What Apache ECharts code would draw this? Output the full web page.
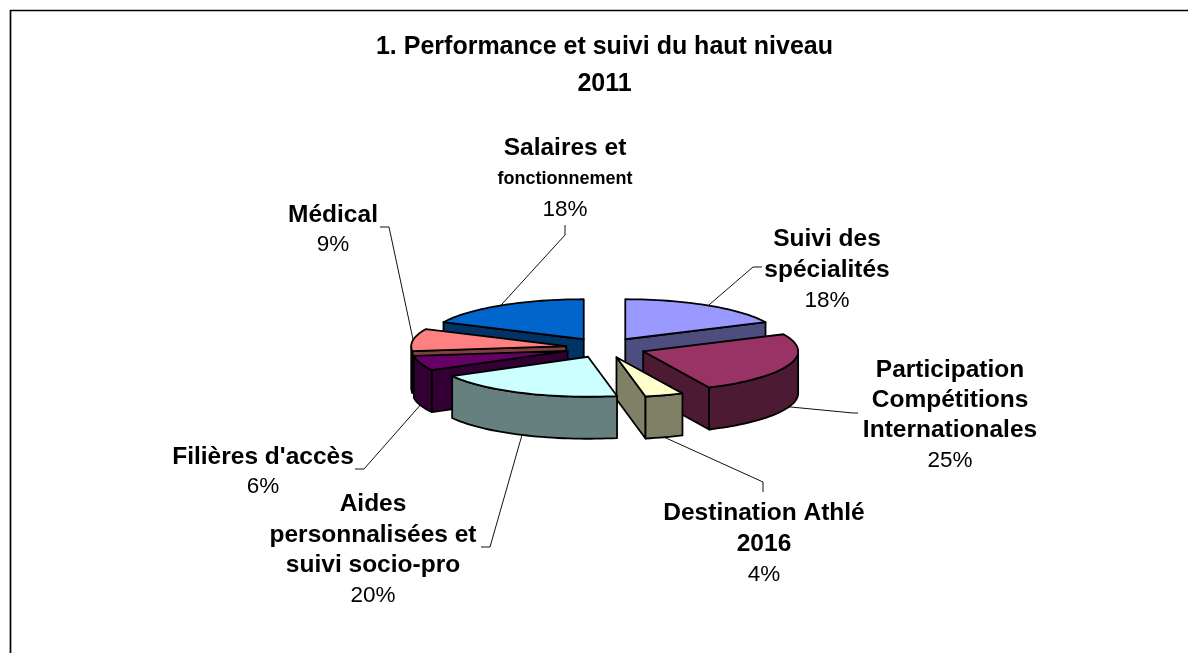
<!DOCTYPE html>
<html>
<head>
<meta charset="utf-8">
<style>
    html, body { margin: 0; padding: 0; background: #fff; }
    #main { width: 1188px; height: 653px; }
</style>
<script src="https://cdn.jsdelivr.net/npm/echarts@6/dist/echarts.min.js"></script>
</head>
<body>
<div id="main"></div>
<script>
    // chart data, clockwise from 12 o'clock
    var categories = ['Suivi des\nspécialités', 'Participation\nCompétitions\nInternationales', 'Destination Athlé\n2016',
        'Aides\npersonnalisées et\nsuivi socio-pro', "Filières d'accès", 'Médical', 'Salaires et\nfonctionnement'];
    var values = [18, 25, 4, 20, 6, 9, 18];
    var titleLines = ['1. Performance et suivi du haut niveau', '2011'];

    // look of each slice
    var topColors = ['#9999ff', '#993366', '#ffffcc', '#ccffff', '#660066', '#ff8080', '#0066cc'];
    var sideColors = ['#4d4d80', '#4d1a33', '#808066', '#668080', '#330033', '#804040', '#003366'];
    var explode = [0.25, 0.265, 0.25, 0.25, 0.25, 0.25, 0.25];
    var drawOrder = [0, 6, 5, 4, 1, 2, 3];   // back to front

    // label centres and the elbow of each leader line
    var labelPos = [[827, 270], [950, 415.5], [764, 544], [373, 550], [263, 472], [333, 230], [565, 179]];
    var leaderPath = [
        [[753, 267], [762, 267]],
        [[853, 413], [858, 413]],
        [[763, 482], [763, 492]],
        [[490, 547], [481, 547]],
        [[364, 469], [355, 469]],
        [[389, 227], [380, 227]],
        [[565, 235], [565, 225]]
    ];

    var CX = 604.5, CY = 347.7, RX = 155, RY = 40, DEPTH = 42;
    var FONT = '"Liberation Sans", Arial, sans-serif';

    var total = values.reduce(function (a, b) { return a + b; }, 0);
    var RAD = Math.PI / 180;

    function angleStart(i) {
        var sum = 0;
        for (var k = 0; k < i; k++) sum += values[k];
        return sum / total * 360;
    }

    function pt(apex, deg, down) {
        return [apex[0] + RX * Math.sin(deg * RAD), apex[1] - RY * Math.cos(deg * RAD) + (down || 0)];
    }

    function arcPoints(apex, a0, a1, down) {
        var pts = [];
        var n = Math.max(2, Math.ceil((a1 - a0) / 2));
        for (var k = 0; k <= n; k++) pts.push(pt(apex, a0 + (a1 - a0) * k / n, down));
        return pts;
    }

    function face(points, color) {
        return {
            type: 'polygon',
            shape: { points: points },
            style: { fill: color, stroke: '#000', lineWidth: 1.8, lineJoin: 'round' }
        };
    }

    function wall(a, b, color) {
        return face([a, b, [b[0], b[1] + DEPTH], [a[0], a[1] + DEPTH]], color);
    }

    function labelText(i) {
        var lines = categories[i].split('\n').map(function (line) {
            return (line === 'fonctionnement' ? '{s|' : '{b|') + line + '}';
        });
        lines.push('{p|' + values[i] + '%}');
        return lines.join('\n');
    }

    function renderSlice(params, api) {
        var i = api.value(0);
        var a0 = angleStart(i);
        var a1 = a0 + values[i] / total * 360;
        var mid = (a0 + a1) / 2;
        var apex = [
            CX + explode[i] * RX * Math.sin(mid * RAD),
            CY - explode[i] * RY * Math.cos(mid * RAD)
        ];
        var p0 = pt(apex, a0);
        var p1 = pt(apex, a1);
        var children = [];

        // leader line starts on the slice rim, at its middle angle
        var frontRim = mid > 90 && mid < 270;
        children.push({
            type: 'polyline',
            shape: { points: [pt(apex, mid, frontRim ? DEPTH : 0)].concat(leaderPath[i]) },
            style: { fill: null, stroke: '#111', lineWidth: 1 }
        });

        // only the walls that face the viewer
        if (p0[0] - apex[0] < -0.01) children.push(wall(apex, p0, sideColors[i]));
        if (apex[0] - p1[0] < -0.01) children.push(wall(p1, apex, sideColors[i]));
        var f0 = Math.max(a0, 90), f1 = Math.min(a1, 270);
        if (f1 > f0) {
            children.push(face(arcPoints(apex, f0, f1).concat(arcPoints(apex, f0, f1, DEPTH).reverse()), sideColors[i]));
        }
        children.push(face([apex].concat(arcPoints(apex, a0, a1)), topColors[i]));

        children.push({
            type: 'text',
            x: labelPos[i][0],
            y: labelPos[i][1],
            style: {
                text: labelText(i),
                align: 'center',
                verticalAlign: 'middle',
                fill: '#000',
                fontFamily: FONT,
                rich: {
                    b: { fontFamily: FONT, fontSize: 24.5, fontWeight: 'bold', lineHeight: 30.3, fill: '#000' },
                    s: { fontFamily: FONT, fontSize: 18, fontWeight: 'bold', lineHeight: 30.3, fill: '#000' },
                    p: { fontFamily: FONT, fontSize: 22.5, lineHeight: 30.3, fill: '#000' }
                }
            }
        });
        return { type: 'group', children: children };
    }

    var myChart = echarts.init(document.getElementById('main'), null, { renderer: 'canvas' });

    myChart.setOption({
        animation: false,
        backgroundColor: '#fff',
        title: {
            text: titleLines.join('\n'),
            left: 599.5,
            top: 24,
            textAlign: 'center',
            textStyle: { fontFamily: FONT, fontSize: 25, fontWeight: 'bold', color: '#000', lineHeight: 37 }
        },
        graphic: [{
            type: 'polyline',
            silent: true,
            shape: { points: [[10.5, 653], [10.5, 10.5], [1188, 10.5]] },
            style: { fill: null, stroke: '#000', lineWidth: 1.7 }
        }],
        series: [{
            type: 'custom',
            coordinateSystem: 'none',
            silent: true,
            clip: false,
            renderItem: renderSlice,
            data: drawOrder.map(function (i) { return [i]; })
        }]
    });
</script>
</body>
</html>
